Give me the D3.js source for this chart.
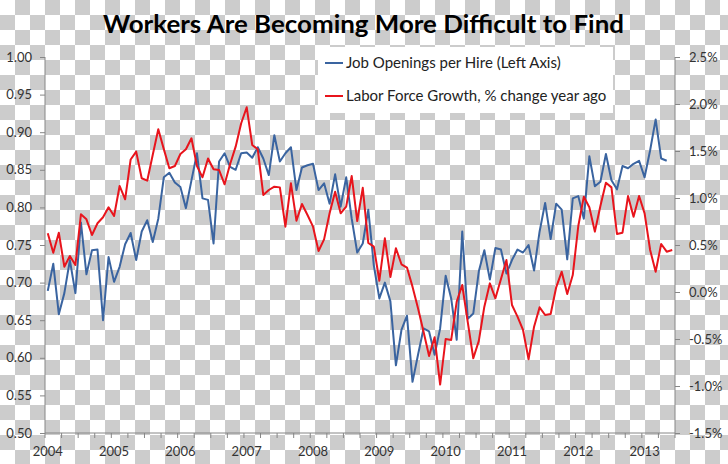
<!DOCTYPE html>
<html>
<head>
<meta charset="utf-8">
<script src="https://cdnjs.cloudflare.com/ajax/libs/d3/7.8.5/d3.min.js"></script>
<style>
  body { margin: 0; background: #fff; }
  svg { display: block; }
  text { font-family: Lato, "Open Sans", sans-serif; }
</style>
</head>
<body>
<div id="chart"></div>
<script>
// monthly, Jan 2004 onward
const jobOpeningsPerHire = [
  0.689, 0.725, 0.658, 0.686, 0.730, 0.686, 0.780, 0.711, 0.743, 0.744, 0.650, 0.734,
  0.701, 0.721, 0.751, 0.766, 0.730, 0.768, 0.783, 0.754, 0.785, 0.840, 0.846, 0.833,
  0.827, 0.799, 0.836, 0.872, 0.812, 0.810, 0.752, 0.861, 0.872, 0.854, 0.850, 0.872,
  0.873, 0.866, 0.880, 0.865, 0.843, 0.896, 0.861, 0.872, 0.880, 0.823, 0.853, 0.856,
  0.858, 0.823, 0.832, 0.805, 0.844, 0.801, 0.840, 0.785, 0.740, 0.752, 0.797, 0.723,
  0.679, 0.700, 0.675, 0.590, 0.637, 0.656, 0.568, 0.604, 0.639, 0.635, 0.604, 0.639,
  0.709, 0.679, 0.624, 0.768, 0.652, 0.659, 0.715, 0.743, 0.704, 0.746, 0.744, 0.712,
  0.730, 0.744, 0.740, 0.750, 0.716, 0.768, 0.806, 0.758, 0.805, 0.797, 0.731, 0.812,
  0.815, 0.785, 0.868, 0.828, 0.834, 0.871, 0.836, 0.824, 0.855, 0.852, 0.858, 0.862,
  0.840, 0.876, 0.917, 0.865, 0.862
];

// % change year ago, right axis
const laborForceGrowth = [
  0.624, 0.418, 0.631, 0.269, 0.383, 0.287, 0.826, 0.773, 0.606, 0.731, 0.795, 0.901,
  0.809, 1.128, 0.986, 1.410, 1.493, 1.210, 1.184, 1.460, 1.731, 1.520, 1.316, 1.340,
  1.468, 1.518, 1.635, 1.340, 1.220, 1.420, 1.305, 1.298, 1.146, 1.362, 1.546, 1.795,
  1.965, 1.564, 1.518, 1.032, 1.085, 1.120, 1.113, 0.695, 1.156, 0.759, 0.936, 0.819,
  0.695, 0.436, 0.560, 0.837, 1.067, 0.837, 0.908, 1.234, 0.755, 1.108, 0.522, 0.482,
  0.120, 0.571, 0.160, 0.465, 0.295, 0.260, 0.057, -0.174, -0.422, -0.680, -0.482, -0.985,
  -0.500, -0.510, -0.103, 0.074, -0.320, -0.705, -0.520, -0.156, 0.092, -0.067, 0.135, 0.340,
  -0.138, -0.262, -0.404, -0.716, -0.369, -0.163, -0.245, -0.234, 0.050, 0.216, -0.021, 0.180,
  0.702, 1.014, 0.901, 0.642, 0.915, 1.163, 1.113, 0.617, 0.631, 1.021, 0.801, 1.021,
  0.837, 0.447, 0.216, 0.511, 0.429, 0.447
];

const months = d3.timeMonth.range(new Date(2004, 0, 1), new Date(2013, 6, 1));
const leftTicks = [0.50, 0.55, 0.60, 0.65, 0.70, 0.75, 0.80, 0.85, 0.90, 0.95, 1.00];
const rightTicks = [-1.5, -1.0, -0.5, 0.0, 0.5, 1.0, 1.5, 2.0, 2.5];
const seriesNames = ["Job Openings per Hire (Left Axis)", "Labor Force Growth, % change year ago"];
const seriesColors = ["#3a64a0", "#e8141c"];

const W = 728, H = 464;
const plot = { left: 45, right: 675, top: 57, bottom: 433 };

const svg = d3.select("#chart").append("svg")
  .attr("width", W)
  .attr("height", H);

// transparent-png checkerboard backdrop
const pat = svg.append("defs").append("pattern")
  .attr("id", "checker")
  .attr("width", 30).attr("height", 30)
  .attr("patternUnits", "userSpaceOnUse");
pat.append("rect").attr("width", 30).attr("height", 30).attr("fill", "#ffffff");
pat.append("rect").attr("x", 15).attr("y", 0).attr("width", 15).attr("height", 15).attr("fill", "#cccccc");
pat.append("rect").attr("x", 0).attr("y", 15).attr("width", 15).attr("height", 15).attr("fill", "#cccccc");
svg.append("rect").attr("width", W).attr("height", H).attr("fill", "url(#checker)");

const x = d3.scaleBand()
  .domain(d3.range(months.length))
  .range([plot.left, plot.right]);
const xc = i => x(i) + x.bandwidth() / 2;

const yLeft = d3.scaleLinear().domain([0.5, 1.0]).range([plot.bottom, plot.top]);
const yRight = d3.scaleLinear().domain([-1.5, 2.5]).range([plot.bottom, plot.top]);

// left axis
const gl = svg.append("g")
  .attr("transform", `translate(${plot.left},0)`)
  .call(d3.axisLeft(yLeft).tickValues(leftTicks).tickFormat(d3.format(".2f")).tickSize(5).tickPadding(8));

// right axis
const gr = svg.append("g")
  .attr("transform", `translate(${plot.right},0)`)
  .call(d3.axisRight(yRight).tickValues(rightTicks).tickFormat(d => d.toFixed(1) + "%").tickSize(5).tickPadding(9));

[gl, gr].forEach(g => {
  g.select(".domain").attr("stroke", "#868686").attr("d", `M0,${plot.top}V${plot.bottom}`);
  g.selectAll(".tick line").attr("stroke", "#868686");
  g.selectAll(".tick text")
    .attr("fill", "#333")
    .style("font-size", "13px")
    .style("font-family", "Lato, sans-serif");
});

// bottom axis: ticks every quarter, year labels on January
const gx = svg.append("g");
gx.append("line")
  .attr("x1", plot.left).attr("x2", plot.right)
  .attr("y1", plot.bottom).attr("y2", plot.bottom)
  .attr("stroke", "#868686");
const tickIdx = d3.range(0, months.length + 1, 3);
gx.selectAll("line.tk")
  .data(tickIdx)
  .enter().append("line")
  .attr("class", "tk")
  .attr("x1", d => d < months.length ? x(d) : plot.right)
  .attr("x2", d => d < months.length ? x(d) : plot.right)
  .attr("y1", plot.bottom).attr("y2", plot.bottom + 5)
  .attr("stroke", "#868686");
const yearIdx = months.map((m, i) => i).filter(i => months[i].getMonth() === 0);
gx.selectAll("text")
  .data(yearIdx)
  .enter().append("text")
  .attr("x", d => xc(d))
  .attr("y", 456)
  .attr("text-anchor", "middle")
  .attr("fill", "#333")
  .style("font-size", "13px")
  .text(d => months[d].getFullYear());

// lines
const lineLeft = d3.line().x((d, i) => xc(i)).y(d => yLeft(d));
const lineRight = d3.line().x((d, i) => xc(i)).y(d => yRight(d));

svg.append("path")
  .datum(jobOpeningsPerHire)
  .attr("fill", "none")
  .attr("stroke", seriesColors[0])
  .attr("stroke-width", 2)
  .attr("stroke-linejoin", "round")
  .attr("d", lineLeft);

svg.append("path")
  .datum(laborForceGrowth)
  .attr("fill", "none")
  .attr("stroke", seriesColors[1])
  .attr("stroke-width", 2)
  .attr("stroke-linejoin", "round")
  .attr("d", lineRight);

// legend
const lg = svg.append("g").attr("transform", "translate(318,47)");
lg.append("rect")
  .attr("width", 295).attr("height", 66)
  .attr("fill", "#fff");
seriesNames.forEach((name, i) => {
  const cy = 16 + i * 33;
  lg.append("line")
    .attr("x1", 7).attr("x2", 25)
    .attr("y1", cy).attr("y2", cy)
    .attr("stroke", seriesColors[i])
    .attr("stroke-width", 2);
  lg.append("text")
    .attr("x", 28).attr("y", cy)
    .attr("dy", "0.35em")
    .attr("fill", "#222")
    .style("font-size", "15px")
    .text(name);
});

// title
svg.append("text")
  .attr("x", 363.5)
  .attr("y", 33)
  .attr("text-anchor", "middle")
  .attr("fill", "#000")
  .attr("textLength", 521)
  .attr("lengthAdjust", "spacingAndGlyphs")
  .style("font-size", "25px")
  .style("font-weight", "bold")
  .text("Workers Are Becoming More Difficult to Find");
</script>
</body>
</html>
